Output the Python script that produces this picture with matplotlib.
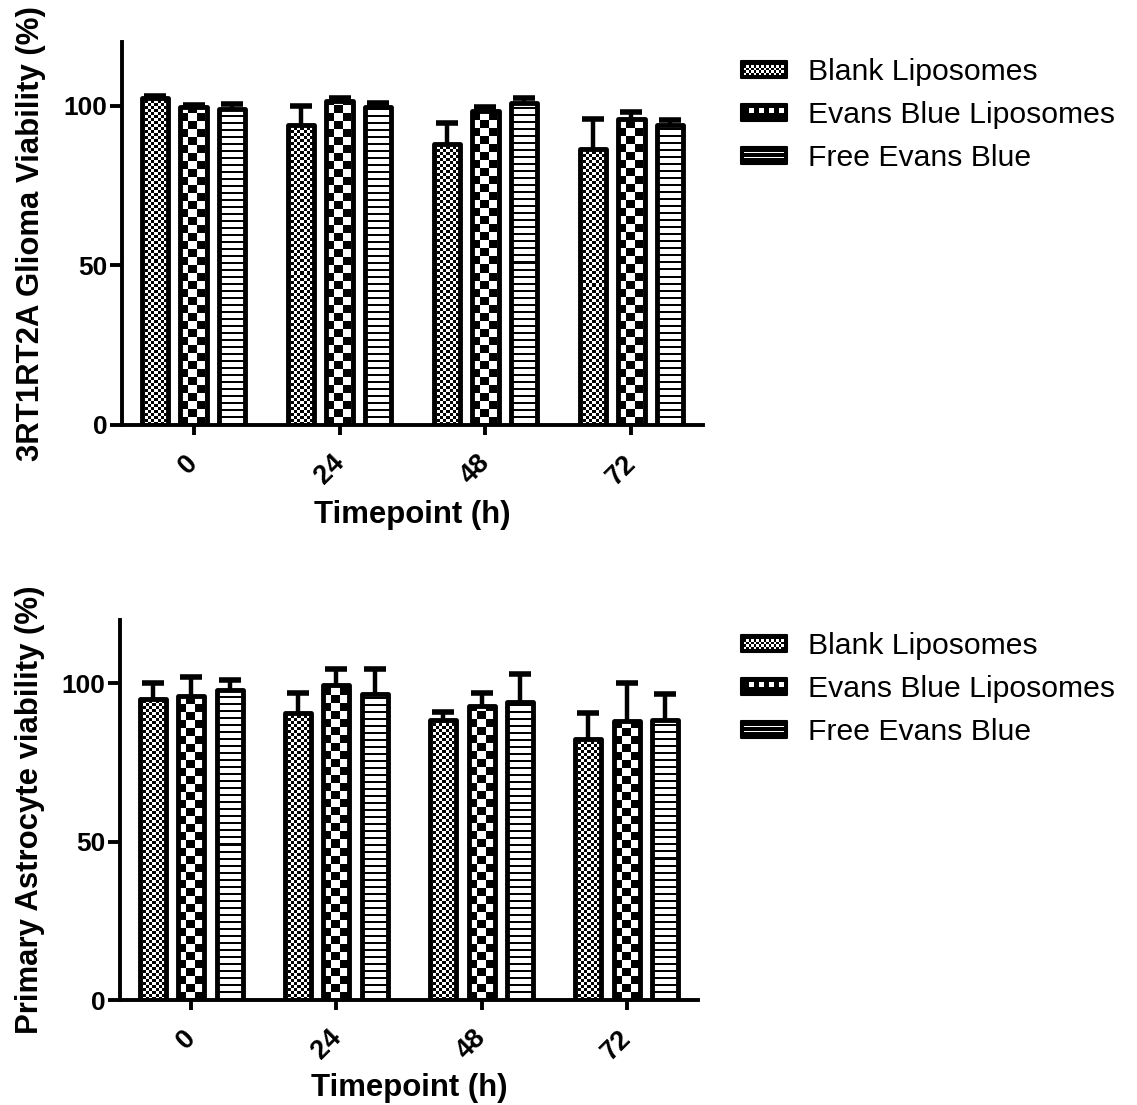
import numpy as np
import matplotlib
matplotlib.use('Agg')
import matplotlib.pyplot as plt
from matplotlib.patches import Rectangle
from matplotlib.legend_handler import HandlerBase
from matplotlib.transforms import ScaledTranslation

plt.rcParams['font.family'] = ['Liberation Sans', 'DejaVu Sans']

timepoints = ['0', '24', '48', '72']
groups = ['Blank Liposomes', 'Evans Blue Liposomes', 'Free Evans Blue']
patterns = ['fine', 'coarse', 'hlines']

# top panel: 3RT1RT2A glioma viability (%), one row per group
glioma_mean = [[102.5, 94.0, 88.0, 86.5],
               [99.5, 101.5, 98.5, 96.0],
               [99.0, 99.5, 101.0, 94.0]]
glioma_err = [[0.6, 6.0, 6.5, 9.5],
              [0.8, 1.0, 1.0, 2.0],
              [1.6, 1.4, 1.4, 1.5]]

# bottom panel: primary astrocyte viability (%)
astro_mean = [[95.0, 90.5, 88.5, 82.5],
              [96.0, 99.5, 93.0, 88.0],
              [98.0, 96.5, 94.0, 88.5]]
astro_err = [[5.0, 6.5, 2.5, 8.0],
             [6.0, 5.0, 4.0, 12.0],
             [3.0, 8.0, 9.0, 8.0]]

offsets = [-0.265, 0.0, 0.265]
bar_w = 0.18


def pattern_image(kind, nx, ny):
    j, i = np.meshgrid(np.arange(nx), np.arange(ny))
    if kind == 'fine':
        return (i // 3 + j // 3) % 2
    if kind == 'coarse':
        return (i // 8 + j // 8) % 2
    return (i % 7 >= 2).astype(int)


class PatternHandler(HandlerBase):
    def create_artists(self, legend, orig_handle, xdescent, ydescent,
                       width, height, fontsize, trans):
        kind = orig_handle.get_gid()
        px = 72.0 / legend.figure.dpi
        x0, y0 = -xdescent, -ydescent
        arts = [Rectangle((x0, y0), width, height, facecolor='black',
                          edgecolor='black', linewidth=1.5, joinstyle='round',
                          transform=trans)]
        b = 2.5 * px
        if kind == 'hlines':
            for yy in (0.33, 0.62):
                arts.append(Rectangle((x0 + b, y0 + height * yy), width - 2 * b,
                                      1.6 * px, facecolor='white', lw=0,
                                      transform=trans))
            return arts
        c = (2.5 if kind == 'fine' else 5.0) * px
        nx = int((width - 2 * b) / c)
        ny = int((height - 2 * b) / c)
        for a in range(nx):
            for r in range(ny):
                if kind == 'coarse' and r != ny // 2:
                    continue
                if (a + r) % 2 == 0:
                    arts.append(Rectangle((x0 + b + a * c, y0 + b + r * c), c, c,
                                          facecolor='white', lw=0, transform=trans))
        return arts


def draw_panel(ax, means, errs, ylabel, label_y, leg_anchor):
    x = np.arange(len(timepoints))
    ax.set_xlim(-0.49, 3.49)
    ax.set_ylim(0, 120)
    for k in range(len(groups)):
        bars = ax.bar(x + offsets[k], means[k], bar_w, facecolor='none',
                      edgecolor='black', linewidth=3.5, joinstyle='round', zorder=3)
        eb = ax.errorbar(x + offsets[k], means[k], yerr=[np.zeros(len(x)), errs[k]],
                         fmt='none', ecolor='black', elinewidth=3.2, capsize=8,
                         capthick=4, zorder=2)
        # only the upper cap is shown
        eb[1][0].set_visible(False)
        for bar in bars:
            x0, w, h = bar.get_x(), bar.get_width(), bar.get_height()
            (p0x, p0y), (p1x, p1y) = ax.transData.transform([(x0, 0), (x0 + w, h)])
            nx = max(int(round(p1x - p0x)), 1)
            ny = max(int(round(p1y - p0y)), 1)
            im = ax.imshow(pattern_image(patterns[k], nx, ny), cmap='gray',
                           vmin=0, vmax=1, extent=(x0, x0 + w, 0, h),
                           origin='lower', interpolation='nearest',
                           aspect='auto', zorder=1)
            im.set_clip_path(bar)
    ax.set_xlim(-0.49, 3.49)
    ax.set_ylim(0, 120)
    for s in ('top', 'right'):
        ax.spines[s].set_visible(False)
    for s in ('left', 'bottom'):
        ax.spines[s].set_linewidth(2.8)
    ax.set_yticks([0, 50, 100])
    ax.set_xticks(x)
    ax.set_xticklabels(timepoints, rotation=45, ha='right')
    ax.tick_params(axis='y', length=9, width=2.8, pad=1.5, labelsize=19)
    ax.tick_params(axis='x', length=7, width=2.8, pad=11, labelsize=19.5)
    shift = ScaledTranslation(7 / 72, 0, ax.figure.dpi_scale_trans)
    for t in ax.get_xticklabels():
        t.set_transform(t.get_transform() + shift)
    for t in ax.get_xticklabels() + ax.get_yticklabels():
        t.set_fontweight('bold')
    ax.set_ylabel(ylabel, fontsize=22.4, fontweight='bold')
    ax.set_xlabel('Timepoint (h)', fontsize=22.4, fontweight='bold')
    ax.yaxis.set_label_coords(-0.13, 0.5)
    ax.xaxis.set_label_coords(0.5, label_y)
    proxies = [Rectangle((0, 0), 1, 1, label=g, gid=p) for g, p in zip(groups, patterns)]
    ax.legend(handles=proxies, handler_map={Rectangle: PatternHandler()},
              loc='upper left', bbox_to_anchor=leg_anchor,
              bbox_transform=ax.figure.transFigure, frameon=False,
              fontsize=21.7, handlelength=1.52, handleheight=0.5,
              handletextpad=0.7, labelspacing=0.5, borderpad=0,
              borderaxespad=0)


fig = plt.figure(figsize=(11.37, 11.05), dpi=100)
ax1 = fig.add_axes([122 / 1137, 1 - 425 / 1105, 581 / 1137, 383 / 1105])
ax2 = fig.add_axes([120 / 1137, 1 - 1000 / 1105, 578 / 1137, 380 / 1105])

draw_panel(ax1, glioma_mean, glioma_err, '3RT1RT2A Glioma Viability (%)',
           -0.195, (741 / 1137, 1 - 58 / 1105))
draw_panel(ax2, astro_mean, astro_err, 'Primary Astrocyte viability (%)',
           -0.193, (741 / 1137, 1 - 632 / 1105))

fig.savefig('out.png', dpi=100)
